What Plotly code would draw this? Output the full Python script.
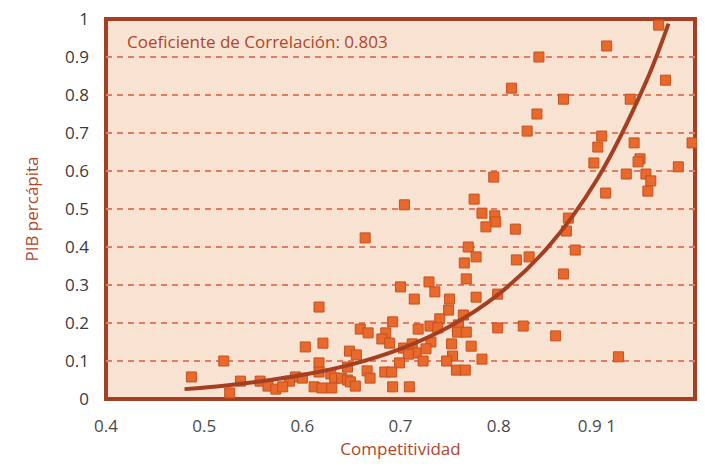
import plotly.graph_objects as go

# Scatter data: Competitividad (x) vs PIB percápita (y)
competitividad = [
    0.963, 0.910, 0.841, 0.970, 0.813, 0.866, 0.934, 0.839, 0.829, 0.905,
    0.901, 0.938, 0.997, 0.944, 0.942, 0.897, 0.983, 0.930, 0.950, 0.955,
    0.952, 0.909, 0.795, 0.775,
    0.704, 0.783, 0.796, 0.797, 0.787, 0.817, 0.871, 0.869, 0.878, 0.866,
    0.831, 0.818, 0.769, 0.777, 0.765, 0.767, 0.664, 0.700, 0.729, 0.735,
    0.714, 0.750, 0.777, 0.799, 0.825, 0.858, 0.922, 0.749, 0.764, 0.740,
    0.730, 0.738, 0.759, 0.758, 0.767, 0.718, 0.799, 0.692, 0.703, 0.712,
    0.731, 0.716, 0.726, 0.708, 0.752, 0.772, 0.753, 0.747, 0.723, 0.783,
    0.699, 0.757, 0.766, 0.692, 0.709,
    0.617, 0.659, 0.667, 0.685, 0.681, 0.689, 0.603, 0.621, 0.648, 0.655,
    0.617, 0.646, 0.617, 0.629, 0.666, 0.684, 0.691, 0.593, 0.600, 0.587,
    0.633, 0.640, 0.646, 0.649, 0.669, 0.654, 0.612, 0.620, 0.630,
    0.520, 0.487, 0.537, 0.557, 0.526, 0.565, 0.573, 0.580,
]
pib_percapita = [
    0.984, 0.929, 0.900, 0.839, 0.818, 0.789, 0.789, 0.750, 0.705, 0.692,
    0.663, 0.674, 0.674, 0.632, 0.624, 0.621, 0.611, 0.592, 0.592, 0.574,
    0.547, 0.542, 0.584, 0.526,
    0.511, 0.489, 0.482, 0.466, 0.453, 0.447, 0.476, 0.442, 0.392, 0.329,
    0.374, 0.366, 0.400, 0.374, 0.358, 0.316, 0.424, 0.295, 0.308, 0.282,
    0.263, 0.263, 0.268, 0.276, 0.192, 0.166, 0.111, 0.234, 0.221, 0.211,
    0.192, 0.187, 0.195, 0.176, 0.176, 0.184, 0.187, 0.203, 0.134, 0.145,
    0.150, 0.121, 0.132, 0.118, 0.145, 0.139, 0.113, 0.100, 0.100, 0.105,
    0.095, 0.076, 0.076, 0.032, 0.032,
    0.242, 0.184, 0.174, 0.174, 0.158, 0.147, 0.137, 0.147, 0.126, 0.116,
    0.095, 0.084, 0.071, 0.066, 0.074, 0.071, 0.071, 0.058, 0.055, 0.047,
    0.055, 0.055, 0.050, 0.045, 0.055, 0.034, 0.032, 0.029, 0.029,
    0.100, 0.058, 0.047, 0.047, 0.016, 0.034, 0.026, 0.032,
]

# Exponential trend line
trend_x = [0.48, 0.52, 0.55, 0.60, 0.65, 0.70, 0.75, 0.80, 0.85, 0.90, 0.95, 0.973]
trend_y = [0.026, 0.035, 0.044, 0.063, 0.091, 0.132, 0.191, 0.276, 0.399, 0.577, 0.834, 0.988]

x_tickvals = [0.4, 0.5, 0.6, 0.7, 0.8, 0.9]
x_ticktext = ["0.4", "0.5", "0.6", "0.7", "0.8", "0.9 1"]
y_tickvals = [0, 0.1, 0.2, 0.3, 0.4, 0.5, 0.6, 0.7, 0.8, 0.9, 1]
y_ticktext = ["0", "0.1", "0.2", "0.3", "0.4", "0.5", "0.6", "0.7", "0.8", "0.9", "1"]

BORDER = "#a63f22"
ACCENT = "#b0452a"
FONT = "Open Sans, Noto Sans, sans-serif"

fig = go.Figure()
fig.add_trace(go.Scatter(
    x=competitividad, y=pib_percapita, mode="markers",
    marker=dict(symbol="square", size=10, color="#e8692b",
                line=dict(width=1, color="#c2521f")),
    cliponaxis=False,
    showlegend=False, hoverinfo="x+y",
))
fig.add_trace(go.Scatter(
    x=trend_x, y=trend_y, mode="lines",
    line=dict(color=BORDER, width=4, shape="spline"),
    showlegend=False, hoverinfo="skip",
))

# The page body keeps an 8px margin; the figure is sized so the page does not overflow.
fig.update_layout(
    width=697, height=455,
    margin=dict(l=98, r=10, t=11, b=64),
    paper_bgcolor="white",
    plot_bgcolor="#f8e3d3",
    font=dict(family=FONT, size=17, color="#444444"),
    xaxis=dict(
        range=[0.4, 1.0], tickvals=x_tickvals, ticktext=x_ticktext,
        showgrid=False, zeroline=False, automargin=False, showline=False,
        ticks="", ticklabelstandoff=15, ticklabeloverflow="allow",
        tickfont=dict(family=FONT, size=17, color="#4a4a4a"),
        title=dict(text="Competitividad", standoff=3,
                   font=dict(family=FONT, size=17, color=ACCENT)),
    ),
    yaxis=dict(
        range=[0, 1], tickvals=y_tickvals, ticktext=y_ticktext,
        showgrid=True, gridcolor="#e27c63", gridwidth=1.5, griddash="6px,5px",
        zeroline=False, automargin=False, showline=False,
        ticks="", ticklabelstandoff=16, ticklabeloverflow="allow",
        tickfont=dict(family=FONT, size=17, color="#3a3a3a"),
        title=dict(text="PIB percápita", standoff=22,
                   font=dict(family=FONT, size=17, color=ACCENT)),
    ),
    shapes=[dict(
        type="rect", xref="paper", yref="paper", x0=0, x1=1, y0=0, y1=1,
        line=dict(color=BORDER, width=4), layer="below",
    )],
    annotations=[dict(
        text="Coeficiente de Correlación: 0.803",
        xref="paper", yref="paper", x=0.032, y=0.94,
        xanchor="left", yanchor="middle", showarrow=False,
        font=dict(family=FONT, size=17, color=ACCENT),
    )],
)

fig.write_html("out.html")
